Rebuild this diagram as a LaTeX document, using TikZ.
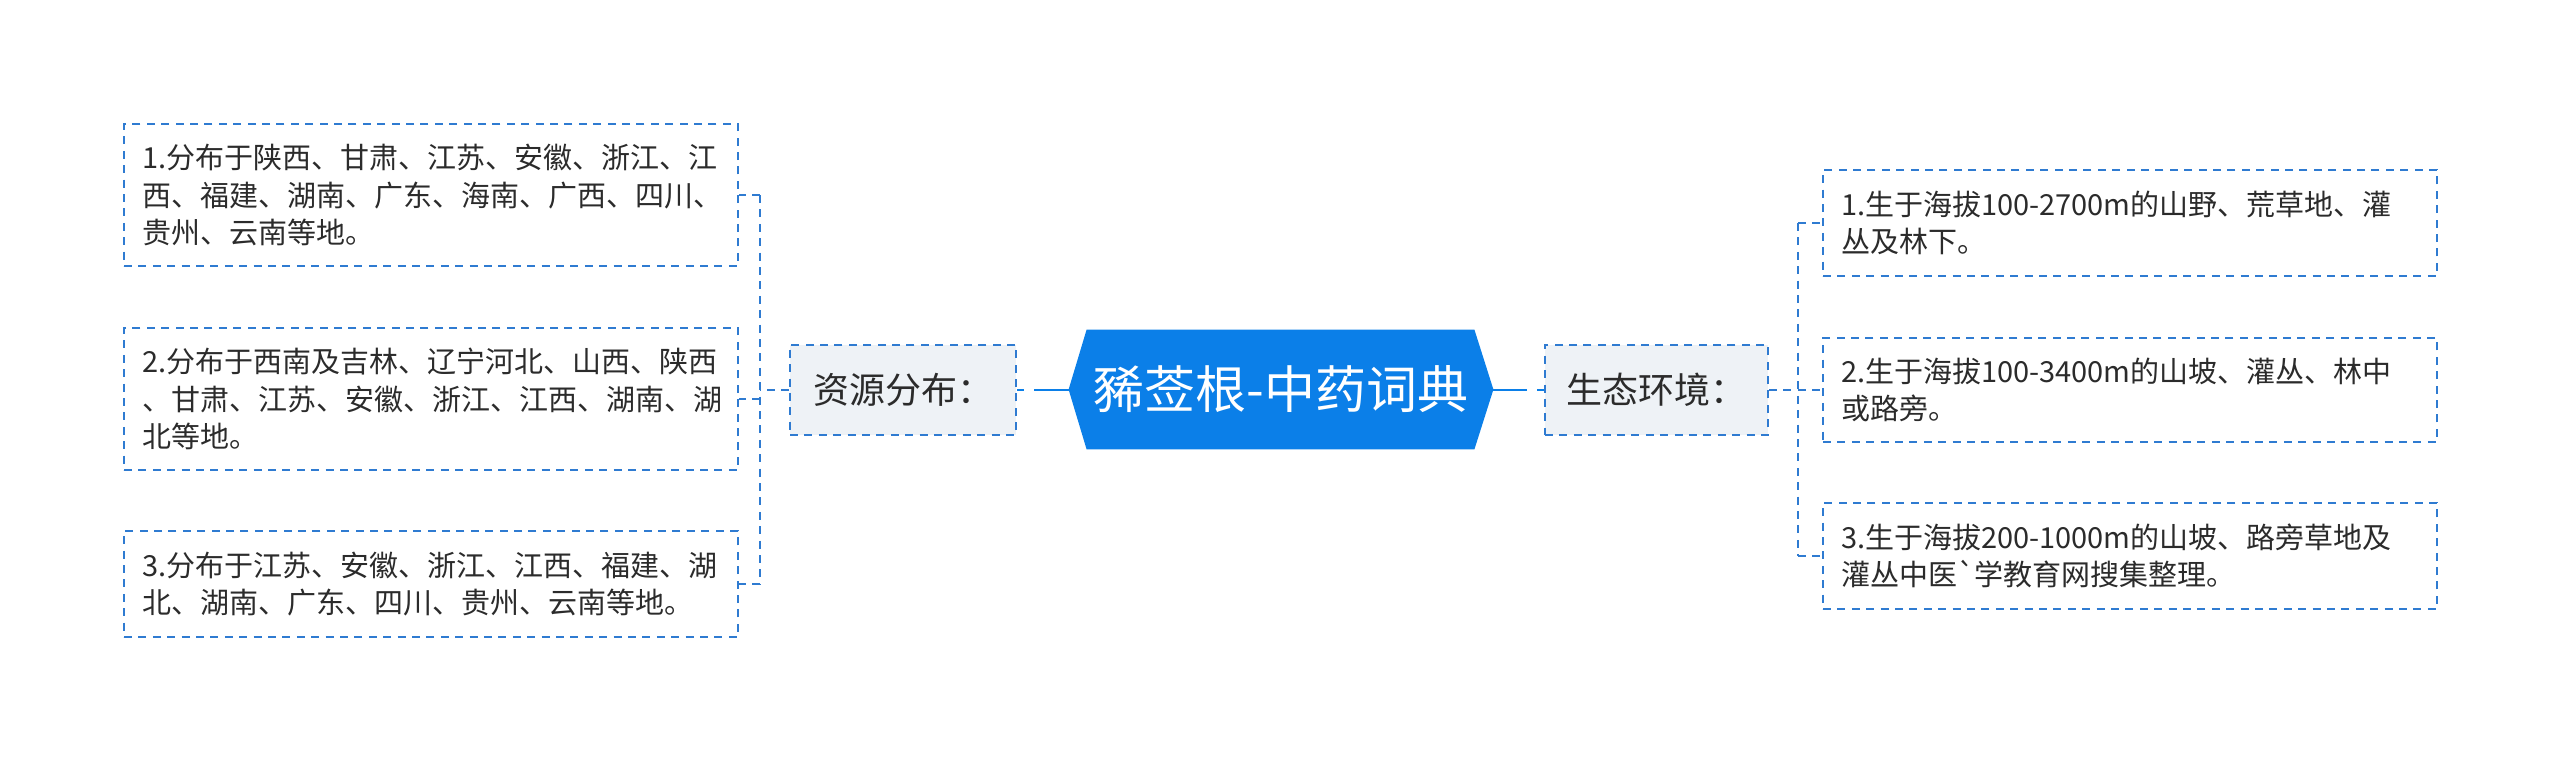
\documentclass[tikz,border=0pt]{standalone}
\usepackage{fontspec}
\setmainfont{Noto Sans CJK SC}[Ligatures=TeXOff]
\definecolor{mainblue}{HTML}{0B7FE8}
\definecolor{dashblue}{HTML}{2F7BD1}
\definecolor{subfill}{HTML}{EEF2F6}
\definecolor{txt}{HTML}{2B2B2B}
\tikzset{
  leafbox/.style={draw=dashblue, line width=1pt, dash pattern=on 4pt off 3.2pt, text=txt,
    font=\fontsize{14.5pt}{18.75pt}\selectfont, align=left, inner xsep=9pt, inner ysep=0pt,
    text width=289pt, anchor=center},
  subbox/.style={draw=dashblue, fill=subfill, line width=1pt, dash pattern=on 4pt off 3.2pt, text=txt,
    font=\fontsize{18pt}{22pt}\selectfont, minimum height=45pt, inner sep=0pt},
  dconn/.style={draw=dashblue, line width=1pt, dash pattern=on 4pt off 3.2pt},
  sconn/.style={draw=mainblue, line width=1pt},
}
\begin{document}
\begin{tikzpicture}[x=0.5pt,y=-0.5pt]
\useasboundingbox (0,0) rectangle (2560,761);
% central node
\node[minimum width=212pt, minimum height=59.5pt, inner sep=0pt] (c) at (1281,389.5) {};
\fill[mainblue] ([xshift=9pt]c.north west) -- ([xshift=-9.5pt]c.north east) -- (c.east)
  -- ([xshift=-9.5pt]c.south east) -- ([xshift=9pt]c.south west) -- (c.west) -- cycle;
\node[text=white, font=\fontsize{25.5pt}{28pt}\selectfont] at (c.center) {豨莶根-中药词典};
% sub nodes
\node[subbox, minimum width=113pt] (zy) at (903,389.5) {资源分布：};
\node[subbox, minimum width=111.5pt] (st) at (1656.5,389.5) {生态环境：};
\draw[sconn, dash pattern=on 3.5pt off 5pt on 200pt off 0pt] (zy.east) -- (c.west);
\draw[sconn, dash pattern=on 3.5pt off 5pt on 200pt off 0pt] (st.west) -- (c.east);
% left leaves
\node[leafbox, minimum height=71pt] (l1) at (431,195) {1.分布于陕西、甘肃、江苏、安徽、浙江、江\\西、福建、湖南、广东、海南、广西、四川、\\贵州、云南等地。};
\node[leafbox, minimum height=71pt] (l2) at (431,399) {2.分布于西南及吉林、辽宁河北、山西、陕西\\、甘肃、江苏、安徽、浙江、江西、湖南、湖\\北等地。};
\node[leafbox, minimum height=53pt] (l3) at (431,584) {3.分布于江苏、安徽、浙江、江西、福建、湖\\北、湖南、广东、四川、贵州、云南等地。};
% right leaves
\node[leafbox, minimum height=53pt] (r1) at (2130,223) {1.生于海拔100-2700m的山野、荒草地、灌\\丛及林下。};
\node[leafbox, minimum height=52pt] (r2) at (2130,390) {2.生于海拔100-3400m的山坡、灌丛、林中\\或路旁。};
\node[leafbox, minimum height=53pt] (r3) at (2130,556) {3.生于海拔200-1000m的山坡、路旁草地及\\灌丛中医`学教育网搜集整理。};
% left connectors
\coordinate (lv) at (760,389.5);
\draw[dconn] (zy.west) -- (lv);
\draw[dconn] (lv |- l1.east) -- (lv |- l3.east);
\draw[dconn] (lv |- l1.east) -- (l1.east);
\draw[dconn] (lv |- l2.east) -- (l2.east);
\draw[dconn] (lv |- l3.east) -- (l3.east);
% right connectors
\coordinate (rv) at (1798,389.5);
\draw[dconn] (st.east) -- (rv);
\draw[dconn] (rv |- r1.west) -- (rv |- r3.west);
\draw[dconn] (rv |- r1.west) -- (r1.west);
\draw[dconn] (rv |- r2.west) -- (r2.west);
\draw[dconn] (rv |- r3.west) -- (r3.west);
\end{tikzpicture}
\end{document}
